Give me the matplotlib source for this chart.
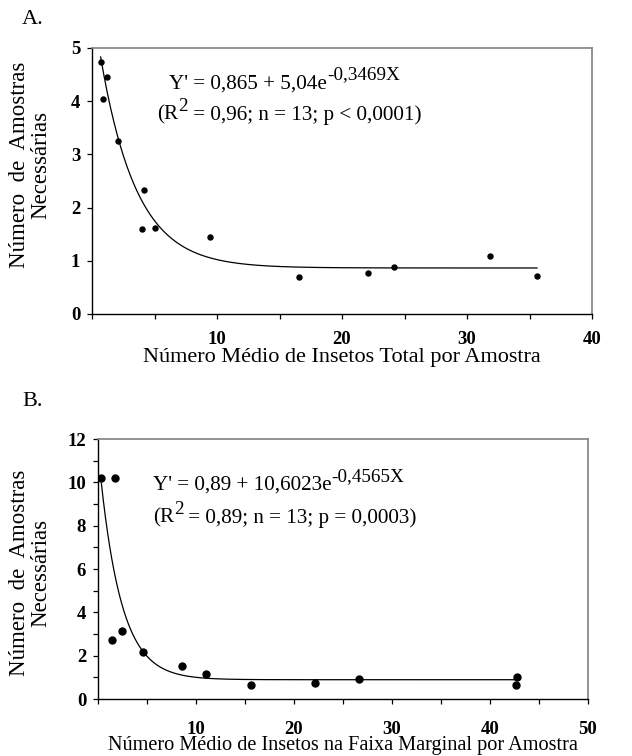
import numpy as np
import matplotlib
matplotlib.use('Agg')
import matplotlib.pyplot as plt
from matplotlib.ticker import MultipleLocator

plt.rcParams['font.family'] = ['Liberation Serif', 'DejaVu Serif']

# painel A - total de insetos
xa = [0.69, 1.23, 0.85, 2.05, 4.19, 3.97, 5.01, 9.44, 16.56, 22.1, 24.13, 31.87, 35.6]
ya = [4.74, 4.45, 4.04, 3.26, 2.34, 1.59, 1.62, 1.44, 0.70, 0.78, 0.88, 1.09, 0.72]
a_par = (0.865, 5.04, 0.3469)

# painel B - faixa marginal
xb = [0.34, 1.73, 1.39, 2.48, 4.56, 8.6, 10.99, 15.6, 22.14, 26.6, 42.76, 42.65]
yb = [10.18, 10.18, 2.71, 3.14, 2.15, 1.52, 1.15, 0.65, 0.75, 0.91, 1.03, 0.65]
b_par = (0.89, 10.6023, 0.4565)

ylab = 'Número  de  Amostras\nNecessárias'


def ajuste(p, x):
    return p[0] + p[1] * np.exp(-p[2] * x)


def estilo(ax, xmax, ymax, ymaj, ymin, xpad):
    ax.xaxis.set_major_locator(MultipleLocator(10))
    ax.xaxis.set_minor_locator(MultipleLocator(5))
    ax.yaxis.set_major_locator(MultipleLocator(ymaj))
    if ymin:
        ax.yaxis.set_minor_locator(MultipleLocator(ymin))
    xt = list(range(0, xmax + 1, 10))
    ax.set_xticks(xt)
    ax.set_xticklabels(['' if t == 0 else str(t) for t in xt])
    ax.set_xlim(0, xmax)
    ax.set_ylim(0, ymax)
    ax.tick_params(which='both', direction='out', length=3.5, width=0.9, color='black')
    ax.tick_params(axis='x', which='major', pad=xpad)
    ax.tick_params(axis='y', pad=5)
    for lb in ax.get_xticklabels() + ax.get_yticklabels():
        lb.set_fontweight('bold')
        lb.set_fontsize(13.5)
    for s in ['top', 'right']:
        ax.spines[s].set_color('#808080')
        ax.spines[s].set_linewidth(1.2)
    for s in ['left', 'bottom']:
        ax.spines[s].set_linewidth(1.0)


def texto(ax, x, y, partes, fs=15.2, fsup=13.8, sobe=7):
    # escreve pedacos em sequencia, alguns como expoente
    t = ax.text(x, y, partes[0][0], transform=ax.transAxes, fontsize=fs, ha='left', va='bottom')
    nivel = 0
    for s, sup in partes[1:]:
        dy = (sobe if sup else 0) - nivel
        nivel = sobe if sup else 0
        t = ax.annotate(s, xy=(1, 0), xycoords=t, xytext=(0, dy), textcoords='offset points',
                        fontsize=fsup if sup else fs, ha='left', va='bottom')


fig = plt.figure(figsize=(6.32, 7.56), dpi=100)

# A
ax1 = fig.add_axes([92/632, 1-314/756, 500/632, 266/756])
xx = np.linspace(min(xa), max(xa), 400)
ax1.plot(xx, ajuste(a_par, xx), color='black', lw=0.9)
ax1.plot(xa, ya, 'o', color='black', ms=3.6)
estilo(ax1, 40, 5, 1, None, 9)
texto(ax1, 0.154, 0.83, [("Y' = 0,865 + 5,04e", 0), ("-0,3469X", 1)])
texto(ax1, 0.13, 0.712, [("(R", 0), ("2", 1), (" = 0,96; n = 13; p < 0,0001)", 0)])
ax1.set_xlabel('Número Médio de Insetos Total por Amostra', fontsize=16, labelpad=0)
fig.text(30/632, 1-165/756, ylab, rotation=90, ha='center', va='center',
         fontsize=16.5, linespacing=1.05)
fig.text(22/632, 1-19/756, 'A.', fontsize=16, ha='left', va='center')

# B
ax2 = fig.add_axes([98/632, 1-699/756, 490/632, 260/756])
xx = np.linspace(min(xb), max(xb), 400)
ax2.plot(xx, ajuste(b_par, xx), color='black', lw=0.9)
ax2.plot(xb, yb, 'o', color='black', ms=5)
estilo(ax2, 50, 12, 2, 1, 12)
texto(ax2, 0.112, 0.785, [("Y' = 0,89 + 10,6023e", 0), ("-0,4565X", 1)])
texto(ax2, 0.112, 0.658, [("(R", 0), ("2", 1), (" = 0,89; n = 13; p = 0,0003)", 0)])
ax2.set_xlabel('Número Médio de Insetos na Faixa Marginal por Amostra', fontsize=14.6,
               labelpad=-1)
fig.text(30/632, 1-573/756, ylab, rotation=90, ha='center', va='center',
         fontsize=16.5, linespacing=1.05)
fig.text(22/632, 1-402/756, 'B.', fontsize=16, ha='left', va='center')

fig.savefig('out.png', dpi=100)
